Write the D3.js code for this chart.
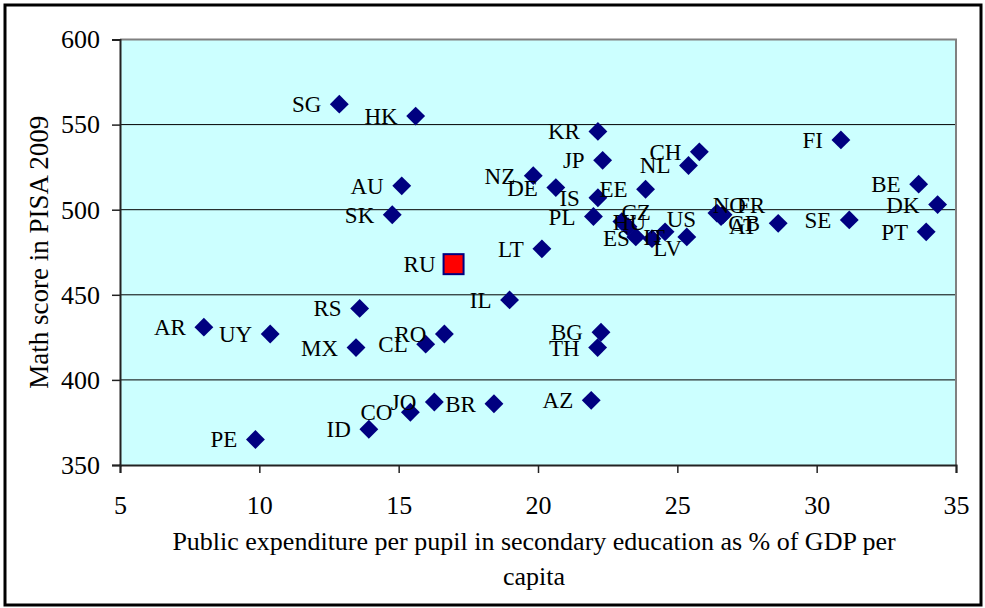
<!DOCTYPE html>
<html>
<head>
<meta charset="utf-8">
<script src="https://cdn.jsdelivr.net/npm/d3@7"></script>
<style>
  body { margin: 0; background: #fff; }
  svg text { font-family: "Liberation Serif", "Times New Roman", serif; fill: #000; }
</style>
</head>
<body>
<svg id="chart" width="985" height="608"></svg>
<script>
    // countries (OECD-style codes), expenditure per pupil (% of GDP per capita), PISA 2009 maths
    var codes = ['SG', 'HK', 'AU', 'SK', 'KR', 'JP', 'NZ', 'DE', 'IS', 'EE', 'CH', 'NL', 'PL',
                 'CZ', 'HU', 'ES', 'IT', 'US', 'LV', 'NO', 'FR', 'AT', 'GB', 'FI', 'SE', 'BE',
                 'DK', 'PT', 'LT', 'IL', 'BG', 'TH', 'AZ', 'AR', 'UY', 'RS', 'MX', 'CL', 'RO',
                 'PE', 'ID', 'CO', 'JO', 'BR'];
    var spend = [12.87, 15.61, 15.11, 14.77, 22.15, 22.32, 19.83, 20.64, 22.15, 23.86, 25.79, 25.40, 21.99,
                 23.01, 23.23, 23.51, 24.09, 24.56, 25.34, 26.42, 26.64, 26.57, 28.62, 30.87, 31.17, 33.66,
                 34.34, 33.93, 20.14, 18.98, 22.26, 22.14, 21.91, 8.01, 10.39, 13.60, 13.47, 15.97, 16.64,
                 9.86, 13.93, 15.42, 16.28, 18.42];
    var math = [562, 555, 514, 497, 546, 529, 520, 513, 507, 512, 534, 526, 496,
                493, 490, 484, 483, 487, 484, 498, 497, 496, 492, 541, 494, 515,
                503, 487, 477, 447, 428, 419, 388, 431, 427, 442, 419, 421, 427,
                365, 371, 381, 387, 386];

    // highlighted country
    var focusCodes = ['RU'];
    var focusSpend = [16.97];
    var focusMath = [468];

    var xTicks = [5, 10, 15, 20, 25, 30, 35];
    var yTicks = [350, 400, 450, 500, 550, 600];

    // hand-placed labels in the crowded middle (pixel nudges from the default left position)
    var labelNudge = {
      'CZ': [47, -10], 'HU': [36, -5], 'ES': [12, 1], 'IT': [31, -2], 'LV': [13, 11], 'US': [49, -13],
      'NO': [47, -8], 'FR': [60, -10], 'AT': [54, 9]
    };

    var svg = d3.select('#chart');
    var plotL = 120, plotR = 956, plotT = 39.5, plotB = 465;

    var x = d3.scaleLinear().domain([5, 35]).range([plotL, plotR]);
    var y = d3.scaleLinear().domain([350, 600]).range([plotB, plotT]);

    // outer frame
    svg.append('rect')
      .attr('x', 5).attr('y', 5).attr('width', 976).attr('height', 600)
      .attr('fill', '#fff').attr('stroke', '#000').attr('stroke-width', 3);

    // plot area
    svg.append('rect')
      .attr('x', plotL).attr('y', plotT).attr('width', plotR - plotL).attr('height', plotB - plotT)
      .attr('fill', '#CCFFFF');

    svg.append('g')
      .selectAll('line')
      .data(yTicks.filter(function(d) { return d > 350 && d < 600; }))
      .enter().append('line')
        .attr('x1', plotL).attr('x2', plotR)
        .attr('y1', function(d) { return y(d); })
        .attr('y2', function(d) { return y(d); })
        .attr('stroke', '#000').attr('stroke-width', 1);

    // grey border top/right
    svg.append('path')
      .attr('d', 'M' + plotL + ',' + plotT + 'H' + plotR + 'V' + plotB)
      .attr('fill', 'none').attr('stroke', '#808080').attr('stroke-width', 2);

    var yAxis = svg.append('g')
      .attr('transform', 'translate(' + plotL + ',0)')
      .call(d3.axisLeft(y).tickValues(yTicks).tickSize(8).tickPadding(12));
    var xAxis = svg.append('g')
      .attr('transform', 'translate(0,' + plotB + ')')
      .call(d3.axisBottom(x).tickValues(xTicks).tickSize(8).tickPadding(23));

    [yAxis, xAxis].forEach(function(g) {
      g.select('.domain').attr('stroke', '#222').attr('stroke-width', 2);
      g.selectAll('.tick line').attr('stroke', '#222').attr('stroke-width', 1.5);
      g.selectAll('.tick text').attr('font-size', 26).attr('font-family', '"Liberation Serif", serif').attr('fill', '#000');
    });

    // axis titles
    svg.append('text')
      .attr('transform', 'translate(48,' + ((plotT + plotB) / 2) + ') rotate(-90)')
      .attr('text-anchor', 'middle')
      .attr('font-size', 27)
      .text('Math score in PISA 2009');

    var xTitle = svg.append('text')
      .attr('text-anchor', 'middle')
      .attr('font-size', 26);
    xTitle.append('tspan').attr('x', 534).attr('y', 550)
      .text('Public expenditure per pupil in secondary education as % of GDP per');
    xTitle.append('tspan').attr('x', 534).attr('y', 585).text('capita');

    var points = codes.map(function(c, i) { return { code: c, x: spend[i], y: math[i] }; });
    var focus = focusCodes.map(function(c, i) { return { code: c, x: focusSpend[i], y: focusMath[i] }; });

    var diamond = d3.symbol().type(d3.symbolSquare).size(178);

    svg.append('g')
      .selectAll('path')
      .data(points)
      .enter().append('path')
        .attr('d', diamond)
        .attr('transform', function(d) { return 'translate(' + x(d.x) + ',' + y(d.y) + ') rotate(45)'; })
        .attr('fill', '#000080');

    svg.append('g')
      .selectAll('rect')
      .data(focus)
      .enter().append('rect')
        .attr('x', function(d) { return x(d.x) - 10; })
        .attr('y', function(d) { return y(d.y) - 10; })
        .attr('width', 20).attr('height', 20)
        .attr('fill', '#FF0000').attr('stroke', '#000080').attr('stroke-width', 2);

    svg.append('g')
      .selectAll('text')
      .data(points.concat(focus))
      .enter().append('text')
        .attr('text-anchor', 'end')
        .attr('font-size', 23)
        .attr('x', function(d) {
          var n = labelNudge[d.code] || [0, 0];
          return x(d.x) - 18 + n[0];
        })
        .attr('y', function(d) {
          var n = labelNudge[d.code] || [0, 0];
          return y(d.y) + 8 + n[1];
        })
        .text(function(d) { return d.code; });
</script>
</body>
</html>
